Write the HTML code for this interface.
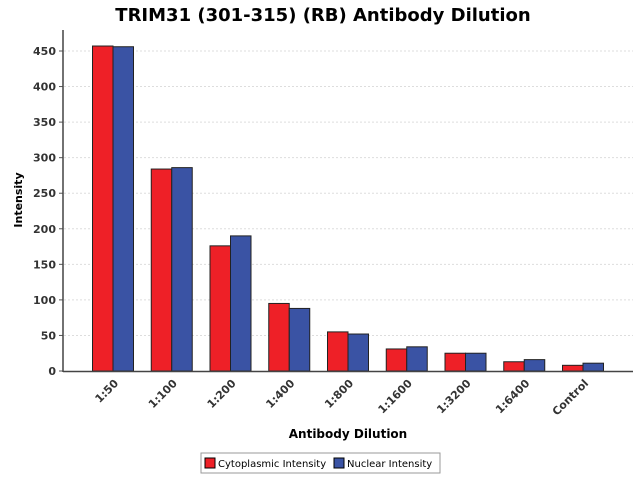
<!DOCTYPE html>
<html><head><meta charset="utf-8"><style>
body{margin:0;background:#fff;}
svg text{font-family:"DejaVu Sans","Liberation Sans",sans-serif;}
</style></head><body>
<svg id="chart" width="640" height="475" viewBox="0 0 640 475" xmlns="http://www.w3.org/2000/svg">
<rect width="640" height="475" fill="#fff"/>
<text x="323" y="21" text-anchor="middle" font-size="18" font-weight="bold" fill="#000">TRIM31 (301-315) (RB) Antibody Dilution</text>
<g id="grid"></g><g id="bars"></g><g id="axes"></g>
<text transform="translate(22,200) rotate(-90)" text-anchor="middle" font-size="11" font-weight="bold">Intensity</text>
<text x="348" y="438" text-anchor="middle" font-size="12" font-weight="bold">Antibody Dilution</text>
<g>
<rect x="201" y="453" width="239" height="20" fill="#fff" stroke="#999"/>
<rect x="205" y="458" width="10" height="10" fill="#ee2027" stroke="#000"/>
<text x="218" y="467" font-size="10">Cytoplasmic Intensity</text>
<rect x="334" y="458" width="10" height="10" fill="#3a53a4" stroke="#000"/>
<text x="347" y="467" font-size="10">Nuclear Intensity</text>
</g>
</svg>
<script>
const categories=["1:50","1:100","1:200","1:400","1:800","1:1600","1:3200","1:6400","Control"];
const cytoplasmic=[457,284,176,95,55,31,25,13,8];
const nuclear=[456,286,190,88,52,34,25,16,11];
const yTicks=[0,50,100,150,200,250,300,350,400,450];
const NS="http://www.w3.org/2000/svg";
const y0=371, pxPer=320/450, xFirst=113, step=58.75, bw=20.5;
const yScale=v=>y0-v*pxPer;
const xCenter=i=>xFirst+i*step;
function mk(tag,attrs,parent){const e=document.createElementNS(NS,tag);for(const k in attrs)e.setAttribute(k,attrs[k]);parent.appendChild(e);return e;}
const grid=document.getElementById('grid'),bars=document.getElementById('bars'),axes=document.getElementById('axes');
yTicks.forEach(t=>{
 const y=yScale(t);
 if(t>0){const g=mk('line',{x1:64,x2:633,y1:y,y2:y,stroke:'#ddd','stroke-dasharray':'2,2'},grid);
 
 }
 const tk=mk('line',{x1:59,x2:63,y1:y,y2:y,stroke:'#555'},axes);
 
 
 const tx=mk('text',{x:56,y:y+4,'text-anchor':'end','font-size':'11','font-weight':'bold',fill:'#333'},axes);
 tx.textContent=t;
 
 
});
categories.forEach((c,i)=>{
 const cx=xCenter(i);
 const r=mk('rect',{x:cx-bw,y:yScale(cytoplasmic[i]),width:bw,height:cytoplasmic[i]*pxPer,fill:'#ee2027',stroke:'#222','stroke-width':1},bars);
 
 
 const b=mk('rect',{x:cx,y:yScale(nuclear[i]),width:bw,height:nuclear[i]*pxPer,fill:'#3a53a4',stroke:'#222','stroke-width':1},bars);
 
 
 const t=mk('text',{transform:`translate(${cx+6},${384}) rotate(-45)`,'text-anchor':'end','font-size':'11','font-weight':'bold',fill:'#333'},axes);
 t.textContent=c;
 
 
});
const ya=mk('line',{x1:63,x2:63,y1:30,y2:372,stroke:'#444','stroke-width':1.5},axes);


const xa=mk('line',{x1:63,x2:633,y1:371.5,y2:371.5,stroke:'#444','stroke-width':1.5},axes);


</script>
</body></html>
